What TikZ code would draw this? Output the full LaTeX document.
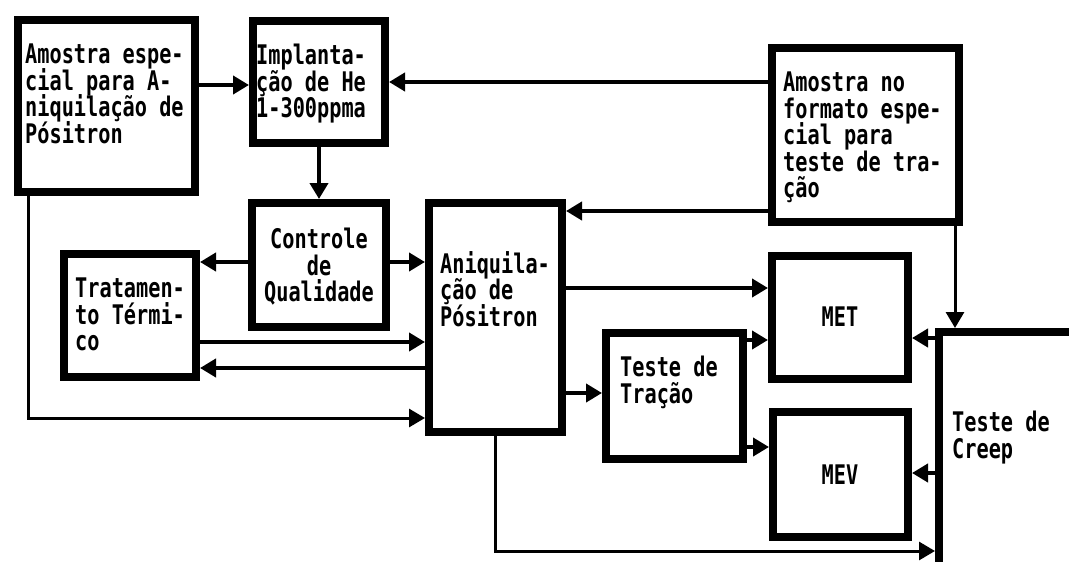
\documentclass[tikz,border=0pt]{standalone}
\usepackage{fontspec}
\newfontfamily\dfont{DejaVu Sans Mono}[FakeStretch=0.75]
\usetikzlibrary{arrows.meta}
\lineskiplimit=-100pt
\begin{document}
\begin{tikzpicture}[x=1pt,y=-1pt,
  box/.style={draw, line width=8pt, rectangle, inner sep=0pt},
  txt/.style={font=\dfont\bfseries\fontsize{27}{26.5}\selectfont, inner sep=0pt, align=left, anchor=north west},
  ctxt/.style={font=\dfont\bfseries\fontsize{27}{26.5}\selectfont, inner sep=0pt, align=center},
  con/.style={line width=4.5pt, -{Triangle[length=16pt,width=18pt]}},
  thinc/.style={line width=3pt, -{Triangle[length=16pt,width=18pt]}}]
\useasboundingbox (0,0) rectangle (1069,562);
\clip (0,0) rectangle (1069,562);
% boxes
\node[box, minimum width=177pt, minimum height=172pt] (A) at (106.5,106) {};
\node[box, minimum width=132pt, minimum height=122pt] (B) at (319,82) {};
\node[box, minimum width=134pt, minimum height=124pt] (C) at (319,265) {};
\node[box, minimum width=132pt, minimum height=123pt] (T) at (130,315.5) {};
\node[box, minimum width=133pt, minimum height=229pt] (N) at (495.5,317.5) {};
\node[box, minimum width=187pt, minimum height=174pt] (D) at (865.5,135) {};
\node[box, minimum width=136pt, minimum height=123pt] (M) at (840,317.5) {};
\node[box, minimum width=135pt, minimum height=125pt] (V) at (840.5,474.5) {};
\node[box, minimum width=137pt, minimum height=126pt] (T2) at (674.5,396) {};
\node[box, minimum width=161pt, minimum height=268pt] (K) at (1019.5,466) {};
% texts
\node[txt] (At) at (25,44) {Amostra espe-\\cial para A-\\niquilação de\\Pósitron};
\node[txt] (Bt) at (256,44) {Implanta-\\ção de He\\1-300ppma};
\node[txt] (Dt) at (783,72) {Amostra no\\formato espe-\\cial para\\teste de tra-\\ção};
\node[ctxt, anchor=north] (Ct) at (319,228) {Controle\\de\\Qualidade};
\node[txt] (Tt) at (75,278) {Tratamen-\\to Térmi-\\co};
\node[txt] (Nt) at (440,251) {Aniquila-\\ção de\\Pósitron};
\node[txt] (T2t) at (620,356) {Teste de\\Tração};
\node[txt] (Kt) at (952,411) {Teste de\\Creep};
\node[ctxt] (Mt) at (840,317) {MET};
\node[ctxt] (Vt) at (840,475) {MEV};
% connectors
\draw[con] (A.east |- 0,85) -- (B.west |- 0,85);
\draw[con] (D.west |- 0,82) -- (B.east |- 0,82);
\draw[con] (B.south) -- (C.north);
\draw[con] (C.west |- 0,262) -- (T.east |- 0,262);
\draw[con] (C.east |- 0,262) -- (N.west |- 0,262);
\draw[con] (T.east |- 0,342) -- (N.west |- 0,342);
\draw[con] (N.west |- 0,368) -- (T.east |- 0,368);
\draw[thinc] (A.south -| 28,0) -- (28,418) -- (N.west |- 0,418);
\draw[con] (D.west |- 0,211) -- (N.east |- 0,211);
\draw[con] (N.east |- 0,288) -- (M.west |- 0,288);
\draw[con] (N.east |- 0,393) -- (T2.west |- 0,393);
\draw[con] (T2.east |- 0,340) -- (M.west |- 0,340);
\draw[con] (T2.east |- 0,447) -- (V.west |- 0,447);
\draw[thinc] (D.south -| 955,0) -- (K.north -| 955,0);
\draw[con] (K.west |- 0,338) -- (M.east |- 0,338);
\draw[con] (K.west |- 0,473) -- (V.east |- 0,473);
\draw[thinc] (N.south -| 495,0) -- (495,551) -- (K.west |- 0,551);
\end{tikzpicture}
\end{document}
